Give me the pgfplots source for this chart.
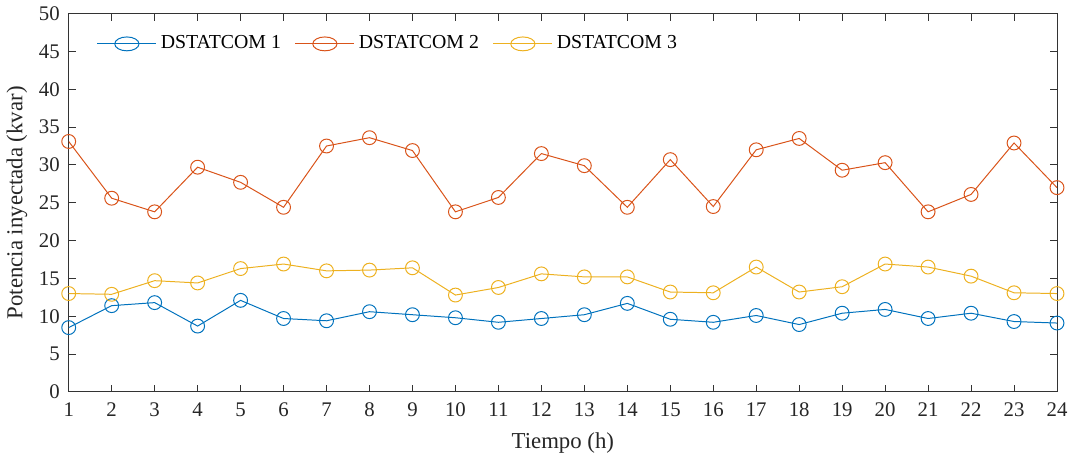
\documentclass[border=0pt]{standalone}
\usepackage{fontspec}
\setmainfont{Liberation Serif}
\usepackage{pgfplots}
\pgfplotsset{compat=1.18}
\definecolor{mblue}{HTML}{0072BD}
\definecolor{morange}{HTML}{D95319}
\definecolor{myellow}{HTML}{EDB120}
\begin{document}
\begin{tikzpicture}
\begin{axis}[
  scale only axis,
  width=499pt, height=191pt,
  xmin=1, xmax=24, ymin=0, ymax=50,
  xtick={1,2,...,24}, ytick={0,5,...,50},
  tick align=inside,
  major tick length=3.5pt,
  axis line style={black!80, line width=0.5pt},
  tick style={black!80, line width=0.5pt},
  tick label style={font=\fontsize{10.5}{11}\selectfont, text=black!85},
  xticklabel style={yshift=-2pt},
  yticklabel style={xshift=-1pt},
  /pgf/number format/assume math mode=true,
  label style={font=\fontsize{11.5}{12}\selectfont, text=black!85},
  xlabel={Tiempo (h)},
  ylabel={Potencia inyectada (kvar)},
  xlabel style={yshift=-1pt},
  ylabel style={yshift=-1pt},
  legend columns=3,
  legend style={draw=none, fill=none, at={(0.022,0.92)}, anchor=west,
    font=\fontsize{10}{11}\selectfont, /tikz/every even column/.append style={column sep=5pt}},
  legend image post style={xscale=1.75},
  every axis plot/.append style={line width=0.5pt, mark=o, mark size=3.5pt},
]
\addplot[color=mblue] coordinates {(1,8.5) (2,11.4) (3,11.8) (4,8.7) (5,12.1) (6,9.7) (7,9.4) (8,10.6) (9,10.2) (10,9.8) (11,9.2) (12,9.7) (13,10.2) (14,11.7) (15,9.6) (16,9.2) (17,10.1) (18,8.9) (19,10.4) (20,10.9) (21,9.7) (22,10.4) (23,9.3) (24,9.1)};
\addlegendentry{DSTATCOM 1}
\addplot[color=morange] coordinates {(1,33.1) (2,25.6) (3,23.8) (4,29.7) (5,27.7) (6,24.4) (7,32.5) (8,33.6) (9,31.9) (10,23.8) (11,25.7) (12,31.5) (13,29.9) (14,24.4) (15,30.7) (16,24.5) (17,32.0) (18,33.5) (19,29.3) (20,30.3) (21,23.8) (22,26.1) (23,32.9) (24,27.0)};
\addlegendentry{DSTATCOM 2}
\addplot[color=myellow] coordinates {(1,13.0) (2,12.9) (3,14.7) (4,14.4) (5,16.3) (6,16.9) (7,16.0) (8,16.1) (9,16.4) (10,12.8) (11,13.8) (12,15.6) (13,15.2) (14,15.2) (15,13.2) (16,13.1) (17,16.5) (18,13.2) (19,13.9) (20,16.9) (21,16.5) (22,15.3) (23,13.1) (24,13.0)};
\addlegendentry{DSTATCOM 3}
\end{axis}
\end{tikzpicture}
\end{document}
